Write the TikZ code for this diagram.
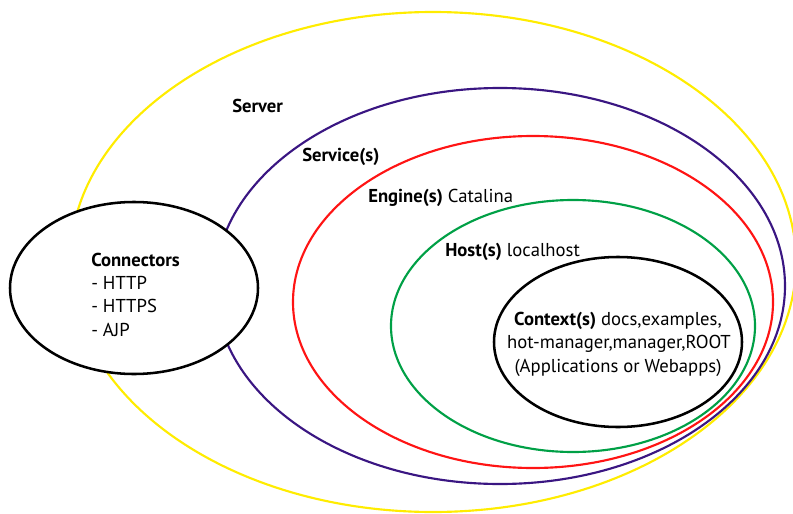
\documentclass[tikz,border=0pt]{standalone}
\usepackage{fontspec}
\setmainfont{PT Sans}
\usetikzlibrary{shapes.geometric}
\definecolor{cyellow}{RGB}{255,236,0}
\definecolor{cpurple}{RGB}{58,22,130}
\definecolor{cred}{RGB}{255,20,20}
\definecolor{cgreen}{RGB}{0,160,70}
\tikzset{
  ring/.style={ellipse, draw, line width=1.6pt, inner sep=0pt},
  lbl/.style={inner sep=0pt, font=\fontsize{14}{17}\selectfont},
}
\begin{document}
\begin{tikzpicture}[x=0.75pt,y=-0.75pt]
\useasboundingbox (0,0) rectangle (793,514);
\node[ring, draw=cyellow, minimum width=544.5pt, minimum height=375pt] (server) at (433,262) {};
\node[ring, draw=cpurple, minimum width=427.5pt, minimum height=297pt] (service) at (500,286) {};
\node[ring, draw=cred, minimum width=360pt, minimum height=249pt] (engine) at (533,302) {};
\node[ring, draw=cgreen, minimum width=273pt, minimum height=189pt] (host) at (573,326) {};
\node[ring, draw=black, line width=1.9pt, minimum width=186pt, minimum height=127.5pt] (context) at (618,342) {};
\node[ring, draw=black, fill=white, line width=1.9pt, minimum width=186pt, minimum height=129pt] (conn) at (134,288) {};

\node[lbl, anchor=base west] (tserver) at (232,112) {\textbf{Server}};
\node[lbl, anchor=base west] (tservice) at (302,161) {\textbf{Service(s)}};
\node[lbl, anchor=base west] (tengine) at (368,202) {\textbf{Engine(s)} Catalina};
\node[lbl, anchor=base west] (thost) at (445,256) {\textbf{Host(s)} localhost};
\node[lbl, anchor=base] (tctx1) at (618,325) {\textbf{Context(s)} docs,examples,};
\node[lbl, anchor=base] (tctx2) at (619,348) {hot-manager,manager,ROOT};
\node[lbl, anchor=base] (tctx3) at (618,372) {(Applications or Webapps)};
\node[lbl, anchor=base west] (tconn1) at (91,266) {\textbf{Connectors}};
\node[lbl, anchor=base west] (tconn2) at (91,289) {- HTTP};
\node[lbl, anchor=base west] (tconn3) at (91,312) {- HTTPS};
\node[lbl, anchor=base west] (tconn4) at (91,336) {- AJP};
\end{tikzpicture}
\end{document}
